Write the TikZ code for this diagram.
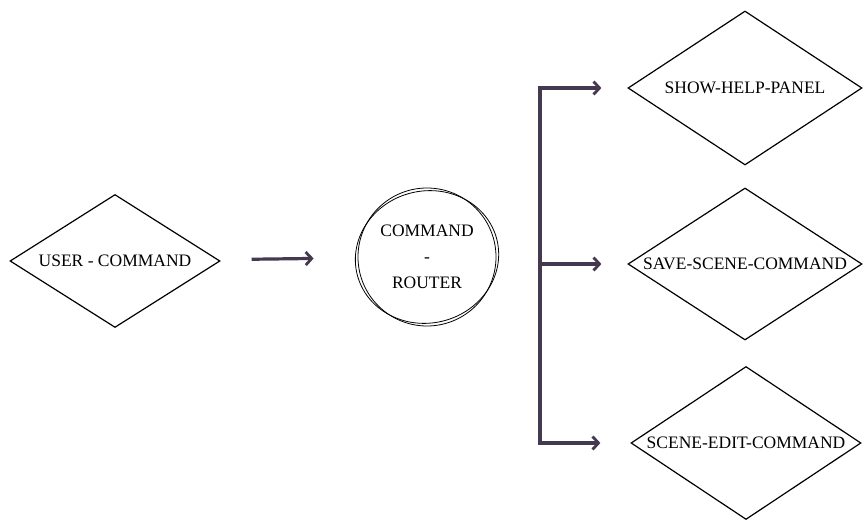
\documentclass[tikz,border=0pt]{standalone}
\usepackage{fontspec}
\setmainfont{Liberation Serif}
\usetikzlibrary{shapes.geometric,arrows.meta}
\definecolor{flowink}{HTML}{45394F}
\tikzset{
  decision/.style={diamond,draw,line width=1.2pt,inner ysep=0pt,inner xsep=-14pt,
    aspect=1.55,font=\fontsize{17.5}{20}\selectfont},
  flow/.style={draw=flowink,line width=3.2pt,
    -{Straight Barb[length=6pt,width=13pt,line width=2.8pt]}},
}
\begin{document}
\begin{tikzpicture}[x=1pt,y=-1pt]
                \useasboundingbox (0,0) rectangle (864,521);
                \node[decision,minimum width=210,minimum height=133] (user) at (115,261) {USER - COMMAND};
                \node[circle,draw,line width=0.8pt,minimum size=138,align=center,
                      font=\fontsize{17.5}{26}\selectfont] (router) at (427,257) {COMMAND\\-\\ROUTER};
                \draw[line width=0.8pt,rotate around={14:(router.center)}] (router.center) ellipse [x radius=72,y radius=66];
                \node[decision,minimum width=234,minimum height=154] (help) at (745,88) {SHOW-HELP-PANEL};
                \node[decision,minimum width=234,minimum height=152] (save) at (745,264) {SAVE-SCENE-COMMAND};
                \node[decision,minimum width=230,minimum height=153] (edit) at (746,443) {SCENE-EDIT-COMMAND};
                \draw[flow,shorten <=33pt,shorten >=44pt] (user) -- (router);
                % fork on the right
                \coordinate (fork) at (540,264);
                \draw[flow,shorten >=26pt] (fork) |- (help.west);
                \draw[flow,shorten >=26pt] (fork) -- (save.west);
                \draw[flow,shorten >=30pt] (fork) |- (edit.west);
\end{tikzpicture}
\end{document}
